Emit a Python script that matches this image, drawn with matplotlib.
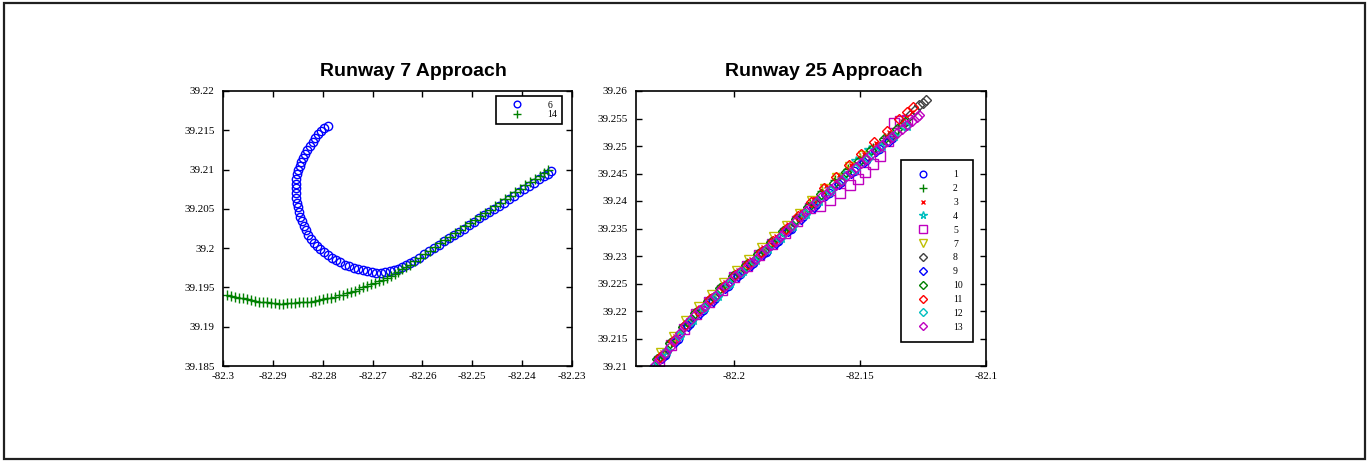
import matplotlib
matplotlib.use("Agg")
import matplotlib.pyplot as plt
from matplotlib.patches import Rectangle

# ---- Runway 7 approach (left panel) ----
r7_6_lon = [-82.2790, -82.2797, -82.2803, -82.2809, -82.2815, -82.2820, -82.2826, -82.2831, -82.2835, -82.2839,
            -82.2843, -82.2846, -82.2849, -82.2851, -82.2853, -82.2854, -82.2854, -82.2854, -82.2853, -82.2852,
            -82.2850, -82.2848, -82.2845, -82.2842, -82.2838, -82.2834, -82.2829, -82.2824, -82.2818, -82.2812,
            -82.2805, -82.2798, -82.2790, -82.2782, -82.2774, -82.2765, -82.2756, -82.2747, -82.2738, -82.2729,
            -82.2720, -82.2711, -82.2702, -82.2693, -82.2684, -82.2675, -82.2666, -82.2657, -82.2648, -82.2640,
            -82.2632, -82.2624, -82.2616, -82.2606, -82.2596, -82.2586, -82.2576, -82.2566, -82.2556, -82.2546,
            -82.2536, -82.2526, -82.2516, -82.2506, -82.2496, -82.2486, -82.2476, -82.2466, -82.2456, -82.2446,
            -82.2436, -82.2426, -82.2416, -82.2406, -82.2396, -82.2386, -82.2376, -82.2366, -82.2356, -82.2348,
            -82.2342]
r7_6_lat = [39.2156, 39.2153, 39.2149, 39.2145, 39.2140, 39.2135, 39.2130, 39.2125, 39.2120, 39.2115,
            39.2110, 39.2105, 39.2100, 39.2094, 39.2088, 39.2082, 39.2076, 39.2070, 39.2064, 39.2058,
            39.2052, 39.2046, 39.2040, 39.2034, 39.2028, 39.2023, 39.2017, 39.2012, 39.2007, 39.2003,
            39.1999, 39.1995, 39.1991, 39.1988, 39.1985, 39.1982, 39.1979, 39.1977, 39.1975, 39.1973,
            39.1972, 39.1971, 39.1970, 39.1969, 39.1969, 39.1970, 39.1971, 39.1972, 39.1974, 39.1976,
            39.1979, 39.1981, 39.1984, 39.1988, 39.1992, 39.1996, 39.2000, 39.2004, 39.2009, 39.2013,
            39.2017, 39.2021, 39.2025, 39.2029, 39.2033, 39.2038, 39.2042, 39.2046, 39.2050, 39.2054,
            39.2058, 39.2063, 39.2067, 39.2071, 39.2075, 39.2079, 39.2083, 39.2088, 39.2092, 39.2095,
            39.2098]

r7_14_lon = [-82.2992, -82.2984, -82.2976, -82.2968, -82.2960, -82.2952, -82.2944, -82.2936, -82.2928, -82.2920,
             -82.2912, -82.2904, -82.2896, -82.2888, -82.2880, -82.2872, -82.2864, -82.2856, -82.2848, -82.2840,
             -82.2832, -82.2824, -82.2816, -82.2808, -82.2800, -82.2792, -82.2784, -82.2776, -82.2768, -82.2760,
             -82.2752, -82.2744, -82.2736, -82.2728, -82.2720, -82.2712, -82.2704, -82.2696, -82.2688, -82.2680,
             -82.2672, -82.2664, -82.2656, -82.2648, -82.2640, -82.2632, -82.2624, -82.2614, -82.2604, -82.2594,
             -82.2584, -82.2574, -82.2564, -82.2554, -82.2544, -82.2534, -82.2524, -82.2514, -82.2504, -82.2494,
             -82.2484, -82.2474, -82.2464, -82.2454, -82.2444, -82.2434, -82.2424, -82.2414, -82.2404, -82.2394,
             -82.2384, -82.2374, -82.2364, -82.2356, -82.2348]
r7_14_lat = [39.1940, 39.1939, 39.1938, 39.1937, 39.1936, 39.1935, 39.1934, 39.1933, 39.1932, 39.1931,
             39.1931, 39.1930, 39.1930, 39.1929, 39.1929, 39.1930, 39.1930, 39.1930, 39.1931, 39.1931,
             39.1932, 39.1932, 39.1933, 39.1934, 39.1935, 39.1936, 39.1937, 39.1938, 39.1940, 39.1941,
             39.1943, 39.1944, 39.1946, 39.1948, 39.1950, 39.1952, 39.1954, 39.1956, 39.1958, 39.1960,
             39.1962, 39.1965, 39.1967, 39.1970, 39.1973, 39.1976, 39.1979, 39.1984, 39.1988, 39.1993,
             39.1997, 39.2001, 39.2006, 39.2010, 39.2014, 39.2019, 39.2023, 39.2028, 39.2032, 39.2036,
             39.2041, 39.2045, 39.2049, 39.2054, 39.2058, 39.2062, 39.2067, 39.2071, 39.2075, 39.2080,
             39.2084, 39.2088, 39.2092, 39.2096, 39.2100]

r7_xticks = [-82.3, -82.29, -82.28, -82.27, -82.26, -82.25, -82.24, -82.23]
r7_xlabels = ['-82.3', '-82.29', '-82.28', '-82.27', '-82.26', '-82.25', '-82.24', '-82.23']
r7_yticks = [39.185, 39.19, 39.195, 39.2, 39.205, 39.21, 39.215, 39.22]
r7_ylabels = ['39.185', '39.19', '39.195', '39.2', '39.205', '39.21', '39.215', '39.22']

# ---- Runway 25 approach (right panel) ----
r25_1_lon = [-82.2325, -82.2275, -82.2225, -82.2175, -82.2125, -82.2075, -82.2025, -82.1975, -82.1925, -82.1875,
             -82.1825, -82.1775, -82.1725, -82.1675, -82.1625, -82.1575, -82.1525, -82.1475, -82.1425, -82.1375]
r25_1_lat = [39.2093, 39.2120, 39.2150, 39.2178, 39.2201, 39.2223, 39.2246, 39.2267, 39.2287, 39.2308,
             39.2328, 39.2349, 39.2372, 39.2394, 39.2415, 39.2435, 39.2455, 39.2475, 39.2495, 39.2514]

r25_2_lon = [-82.230, -82.225, -82.220, -82.215, -82.210, -82.205, -82.200, -82.195, -82.190, -82.185,
             -82.180, -82.175, -82.170, -82.165, -82.160, -82.155, -82.150, -82.145, -82.140, -82.135]
r25_2_lat = [39.2116, 39.2144, 39.2174, 39.2200, 39.2222, 39.2244, 39.2267, 39.2287, 39.2307, 39.2328,
             39.2348, 39.2371, 39.2394, 39.2418, 39.2439, 39.2459, 39.2478, 39.2496, 39.2515, 39.2533]

r25_3_lon = [-82.2285, -82.2235, -82.2185, -82.2135, -82.2085, -82.2035, -82.1985, -82.1935, -82.1885, -82.1835,
             -82.1785, -82.1735, -82.1685, -82.1635, -82.1585, -82.1535, -82.1485, -82.1435, -82.1385, -82.1335,
             -82.1295]
r25_3_lat = [39.2125, 39.2155, 39.2184, 39.2208, 39.2230, 39.2252, 39.2274, 39.2295, 39.2316, 39.2337,
             39.2359, 39.2381, 39.2405, 39.2427, 39.2447, 39.2466, 39.2486, 39.2505, 39.2525, 39.2545,
             39.2562]

r25_4_lon = [-82.2315, -82.2265, -82.2215, -82.2165, -82.2115, -82.2065, -82.2015, -82.1965, -82.1915, -82.1865,
             -82.1815, -82.1765, -82.1715, -82.1665, -82.1615, -82.1565, -82.1515, -82.1465, -82.1415, -82.1365,
             -82.1315]
r25_4_lat = [39.2099, 39.2127, 39.2157, 39.2183, 39.2207, 39.2228, 39.2251, 39.2272, 39.2292, 39.2313,
             39.2333, 39.2354, 39.2377, 39.2400, 39.2422, 39.2448, 39.2473, 39.2493, 39.2500, 39.2518,
             39.2537]

r25_5_lon = [-82.2300, -82.2250, -82.2200, -82.2150, -82.2100, -82.2050, -82.2000, -82.1950, -82.1900, -82.1850,
             -82.1800, -82.1750, -82.1700, -82.1660, -82.1620, -82.1580, -82.1540, -82.1510, -82.1480, -82.1450,
             -82.1420, -82.1390, -82.1365, -82.1340, -82.1315]
r25_5_lat = [39.2110, 39.2138, 39.2168, 39.2194, 39.2216, 39.2238, 39.2261, 39.2281, 39.2301, 39.2322,
             39.2342, 39.2364, 39.2387, 39.2391, 39.2401, 39.2414, 39.2430, 39.2440, 39.2452, 39.2467,
             39.2482, 39.2510, 39.2542, 39.2546, 39.2548]

r25_7_lon = [-82.2290, -82.2240, -82.2190, -82.2140, -82.2090, -82.2040, -82.1990, -82.1940, -82.1890, -82.1840,
             -82.1790, -82.1740, -82.1690, -82.1640, -82.1590, -82.1540, -82.1490]
r25_7_lat = [39.2124, 39.2153, 39.2182, 39.2208, 39.2229, 39.2251, 39.2273, 39.2293, 39.2314, 39.2334,
             39.2355, 39.2377, 39.2400, 39.2421, 39.2441, 39.2461, 39.2481]

r25_8_lon = [-82.2280, -82.2180, -82.2080, -82.1980, -82.1880, -82.1780, -82.1680, -82.1580, -82.1480, -82.1380,
             -82.1300, -82.1280, -82.1265, -82.1252, -82.1240]
r25_8_lat = [39.2120, 39.2179, 39.2225, 39.2269, 39.2310, 39.2351, 39.2396, 39.2437, 39.2477, 39.2517,
             39.2556, 39.2566, 39.2574, 39.2579, 39.2584]

r25_9_lon = [-82.2335, -82.2285, -82.2235, -82.2185, -82.2135, -82.2085, -82.2035, -82.1985, -82.1935, -82.1885,
             -82.1835, -82.1785, -82.1735, -82.1685, -82.1635, -82.1585, -82.1535, -82.1485, -82.1435, -82.1385]
r25_9_lat = [39.2089, 39.2114, 39.2144, 39.2173, 39.2197, 39.2219, 39.2241, 39.2263, 39.2283, 39.2304,
             39.2324, 39.2345, 39.2367, 39.2390, 39.2411, 39.2431, 39.2451, 39.2471, 39.2491, 39.2510]

r25_10_lon = [-82.2305, -82.2255, -82.2205, -82.2155, -82.2105, -82.2055, -82.2005, -82.1955, -82.1905, -82.1855,
              -82.1805, -82.1755, -82.1705, -82.1655, -82.1605, -82.1555, -82.1505, -82.1455, -82.1405, -82.1355,
              -82.1320]
r25_10_lat = [39.2113, 39.2141, 39.2171, 39.2197, 39.2219, 39.2241, 39.2264, 39.2284, 39.2304, 39.2325,
              39.2345, 39.2367, 39.2390, 39.2412, 39.2432, 39.2452, 39.2472, 39.2492, 39.2512, 39.2531,
              39.2544]

r25_11_lon = [-82.2295, -82.2245, -82.2195, -82.2145, -82.2095, -82.2045, -82.1995, -82.1945, -82.1895, -82.1845,
              -82.1795, -82.1745, -82.1695, -82.1645, -82.1595, -82.1545, -82.1495, -82.1445, -82.1395, -82.1345,
              -82.1315, -82.1291]
r25_11_lat = [39.2116, 39.2145, 39.2175, 39.2200, 39.2222, 39.2244, 39.2266, 39.2286, 39.2307, 39.2327,
              39.2349, 39.2373, 39.2398, 39.2423, 39.2444, 39.2465, 39.2486, 39.2507, 39.2528, 39.2549,
              39.2561, 39.2571]

r25_12_lon = [-82.2320, -82.2270, -82.2220, -82.2170, -82.2120, -82.2070, -82.2020, -82.1970, -82.1920, -82.1870,
              -82.1820, -82.1770, -82.1720, -82.1670, -82.1620, -82.1570, -82.1520, -82.1470, -82.1420, -82.1370,
              -82.1320]
r25_12_lat = [39.2098, 39.2125, 39.2155, 39.2182, 39.2205, 39.2227, 39.2250, 39.2271, 39.2291, 39.2312,
              39.2332, 39.2354, 39.2376, 39.2399, 39.2419, 39.2439, 39.2459, 39.2479, 39.2499, 39.2518,
              39.2537]

r25_13_lon = [-82.2315, -82.2295, -82.2275, -82.2255, -82.2235, -82.2215, -82.2195, -82.2175, -82.2155, -82.2135,
              -82.2115, -82.2095, -82.2075, -82.2055, -82.2035, -82.2015, -82.1995, -82.1975, -82.1955, -82.1935,
              -82.1915, -82.1895, -82.1875, -82.1855, -82.1835, -82.1815, -82.1795, -82.1775, -82.1755, -82.1735,
              -82.1715, -82.1695, -82.1675, -82.1655, -82.1635, -82.1615, -82.1595, -82.1575, -82.1555, -82.1535,
              -82.1515, -82.1495, -82.1475, -82.1455, -82.1435, -82.1415, -82.1395, -82.1375, -82.1355, -82.1335,
              -82.1315, -82.1295, -82.1275, -82.1265]
r25_13_lat = [39.2101, 39.2113, 39.2124, 39.2135, 39.2147, 39.2160, 39.2172, 39.2183, 39.2192, 39.2201,
              39.2210, 39.2219, 39.2227, 39.2236, 39.2245, 39.2255, 39.2263, 39.2271, 39.2279, 39.2287,
              39.2295, 39.2304, 39.2312, 39.2320, 39.2328, 39.2336, 39.2345, 39.2354, 39.2363, 39.2372,
              39.2381, 39.2390, 39.2398, 39.2407, 39.2413, 39.2421, 39.2429, 39.2437, 39.2445, 39.2453,
              39.2461, 39.2469, 39.2477, 39.2485, 39.2493, 39.2501, 39.2509, 39.2516, 39.2524, 39.2531,
              39.2538, 39.2545, 39.2552, 39.2556]

r25_xticks = [-82.2, -82.15, -82.1]
r25_xlabels = ['-82.2', '-82.15', '-82.1']
r25_yticks = [39.21, 39.215, 39.22, 39.225, 39.23, 39.235, 39.24, 39.245, 39.25, 39.255, 39.26]
r25_ylabels = ['39.21', '39.215', '39.22', '39.225', '39.23', '39.235', '39.24', '39.245', '39.25', '39.255', '39.26']

W, H = 1369, 462
fig = plt.figure(figsize=(W / 100, H / 100), dpi=100)
fig.patches.append(Rectangle((4 / W, 3 / H), 1361 / W, 456 / H, transform=fig.transFigure,
                             fill=False, edgecolor='#202020', linewidth=1.6))

serif = 'Liberation Serif'
sans = 'Liberation Sans'


def style_axes(ax, xticks, xlabels, yticks, ylabels):
    ax.set_xticks(xticks)
    ax.set_xticklabels(xlabels, fontfamily=serif, fontsize=8)
    ax.set_yticks(yticks)
    ax.set_yticklabels(ylabels, fontfamily=serif, fontsize=8)
    ax.tick_params(direction='in', top=True, right=True, length=4, width=1, color='black')
    ax.tick_params(axis='x', pad=4)
    ax.tick_params(axis='y', pad=6)
    for s in ax.spines.values():
        s.set_linewidth(1.2)
        s.set_color('black')


mk = dict(linestyle='none', markerfacecolor='none', markeredgewidth=1.0)

# left panel
ax1 = fig.add_axes([223 / W, 1 - 366 / H, 349 / W, 275 / H])
ax1.plot(r7_6_lon, r7_6_lat, marker='o', markersize=6, color='#0000ff', label='6', **mk)
ax1.plot(r7_14_lon, r7_14_lat, marker='+', markersize=7, color='#008000', label='14', **mk)
ax1.set_xlim(-82.3, -82.23)
ax1.set_ylim(39.185, 39.22)
style_axes(ax1, r7_xticks, r7_xlabels, r7_yticks, r7_ylabels)
leg1 = ax1.legend(loc='upper right', bbox_to_anchor=(0.971, 0.982), prop={'family': serif, 'size': 7},
                  handlelength=3.5, handletextpad=1.3, borderpad=0.5, labelspacing=0.05,
                  markerscale=0.8, fancybox=False, framealpha=1, edgecolor='black', borderaxespad=0)
leg1.get_frame().set_linewidth(1.2)
fig.text(413 / W, 1 - 72 / H, 'Runway 7 Approach', family=sans, fontweight='bold', fontsize=14,
         ha='center', va='center')

# right panel
ax2 = fig.add_axes([636 / W, 1 - 366 / H, 350 / W, 275 / H])
series = [
    (r25_1_lon, r25_1_lat, 'o', 6, '#0000ff', '1'),
    (r25_2_lon, r25_2_lat, '+', 7, '#008000', '2'),
    (r25_3_lon, r25_3_lat, 'x', 3.5, '#ff0000', '3'),
    (r25_4_lon, r25_4_lat, '*', 7, '#00bfbf', '4'),
    (r25_5_lon, r25_5_lat, 's', 7, '#bf00bf', '5'),
    (r25_7_lon, r25_7_lat, 'v', 7, '#bfbf00', '7'),
    (r25_8_lon, r25_8_lat, 'D', 5, '#404040', '8'),
    (r25_9_lon, r25_9_lat, 'D', 5, '#0000ff', '9'),
    (r25_10_lon, r25_10_lat, 'D', 5, '#008000', '10'),
    (r25_11_lon, r25_11_lat, 'D', 5, '#ff0000', '11'),
    (r25_12_lon, r25_12_lat, 'D', 5, '#00bfbf', '12'),
    (r25_13_lon, r25_13_lat, 'D', 5.5, '#bf00bf', '13'),
]
for lon, lat, m, ms, c, lab in series:
    ax2.plot(lon, lat, marker=m, markersize=ms, color=c, label=lab, **mk)
ax2.set_xlim(-82.239, -82.1)
ax2.set_ylim(39.21, 39.26)
style_axes(ax2, r25_xticks, r25_xlabels, r25_yticks, r25_ylabels)
leg2 = ax2.legend(loc='upper right', bbox_to_anchor=(0.963, 0.749), prop={'family': serif, 'size': 7},
                  handlelength=2.4, handletextpad=1.9, borderpad=1.05, labelspacing=0.5,
                  markerscale=0.8, fancybox=False, framealpha=1, edgecolor='black', borderaxespad=0)
leg2.get_frame().set_linewidth(1.2)
fig.text(824 / W, 1 - 72 / H, 'Runway 25 Approach', family=sans, fontweight='bold', fontsize=14,
         ha='center', va='center')

fig.savefig('out.png', dpi=100)
